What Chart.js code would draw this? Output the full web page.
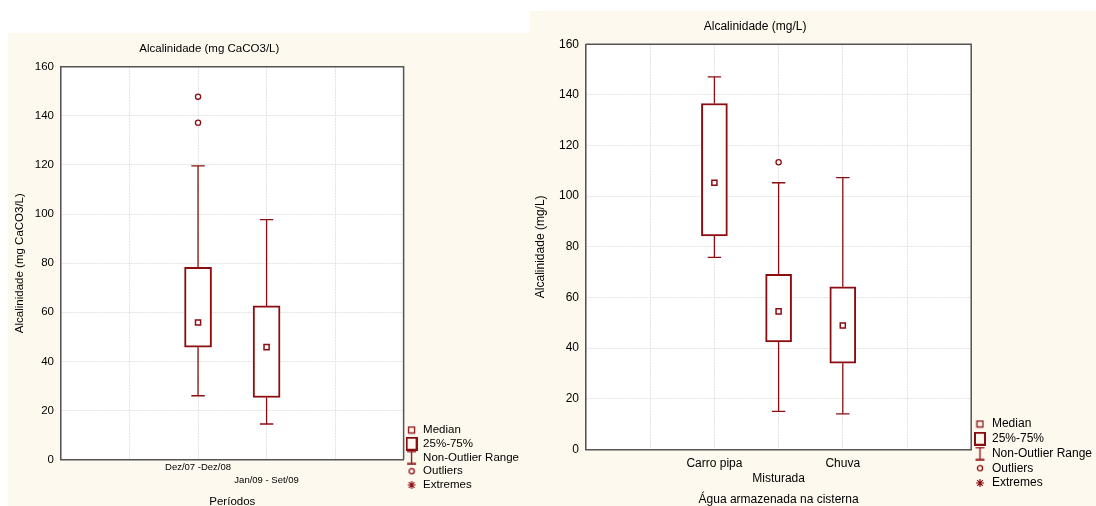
<!DOCTYPE html>
<html>
<head>
<meta charset="utf-8">
<script src="https://cdn.jsdelivr.net/npm/chart.js@4.4.1/dist/chart.umd.min.js"></script>
<style>
  html, body { margin: 0; padding: 0; background: #fff; width: 1096px; height: 506px; overflow: hidden; }
  .panel { position: absolute; background: #fdf9ee; overflow: hidden; }
  #leftPanel { left: 8px; top: 33px; width: 522px; height: 473px; }
  #rightPanel { left: 530px; top: 11px; width: 566px; height: 495px; }
  canvas { display: block; }
</style>
</head>
<body>
<div class="panel" id="leftPanel"><canvas id="leftChart" width="522" height="473"></canvas></div>
<div class="panel" id="rightPanel"><canvas id="rightChart" width="572" height="495"></canvas></div>
<script>
// Left panel: alkalinity per period (box plot summary values)
const leftCategories = ['', '', 'Dez/07 -Dez/08', 'Jan/09 - Set/09', '', ''];
const leftMin = [26, 14.5];
const leftQ1 = [45.8, 25.3];
const leftMedian = [55.8, 45.8];
const leftQ3 = [78.3, 62.6];
const leftMax = [119.6, 97.7];
const leftOutliers = [[147.8, 137.2], []];

// Right panel: alkalinity per water source
const rightCategories = ['', '', 'Carro pipa', 'Misturada', 'Chuva', '', ''];
const rightMin = [75.8, 15, 14];
const rightQ1 = [84.3, 42.4, 34];
const rightMedian = [105.3, 54.5, 48.9];
const rightQ3 = [136.6, 69.1, 64.2];
const rightMax = [147.1, 105.3, 107.3];
const rightOutliers = [[], [113.4], []];

const yTicks = [0, 20, 40, 60, 80, 100, 120, 140, 160];
const legendNames = ['Median', '25%-75%', 'Non-Outlier Range', 'Outliers', 'Extremes'];

const RED = '#8c0d10';
const FONT = '"Liberation Sans", Arial, sans-serif';

// little canvases used as legend symbols
function symbol(w, h, draw) {
    const c = document.createElement('canvas');
    c.width = w; c.height = h;
    const g = c.getContext('2d');
    g.strokeStyle = RED; g.fillStyle = RED;
    draw(g);
    return c;
}
const legendSymbols = [
    symbol(9, 9, g => { g.lineWidth = 1.3; g.strokeRect(1.5, 1.5, 6, 6); }),
    symbol(12, 14, g => { g.lineWidth = 2; g.strokeRect(1, 1, 10, 12); }),
    symbol(11, 14, g => {
        g.lineWidth = 1.3; g.beginPath();
        g.moveTo(1, 1); g.lineTo(10, 1);
        g.moveTo(5.5, 1); g.lineTo(5.5, 13);
        g.moveTo(1, 13); g.lineTo(10, 13);
        g.stroke();
    }),
    symbol(8, 8, g => { g.lineWidth = 1.3; g.beginPath(); g.arc(4, 4, 2.6, 0, Math.PI * 2); g.stroke(); }),
    symbol(10, 10, g => {
        g.lineWidth = 1.2; g.beginPath();
        for (let a = 0; a < 4; a++) {
            const r = a * Math.PI / 4;
            g.moveTo(5 - Math.cos(r) * 4, 5 - Math.sin(r) * 4);
            g.lineTo(5 + Math.cos(r) * 4, 5 + Math.sin(r) * 4);
        }
        g.stroke();
    })
];

function boxDatasets(cats, mins, q1, med, q3, maxs, outliers, barW) {
    const xs = cats.map((c, i) => c ? i : -1).filter(i => i >= 0);
    const whisker = [];
    xs.forEach((x, i) => {
        whisker.push({x, y: mins[i]}, {x, y: q1[i]}, {x, y: null},
                     {x, y: q3[i]}, {x, y: maxs[i]}, {x, y: null});
    });
    return [
        { type: 'scatter', label: 'Median', data: xs.map((x, i) => ({x, y: med[i]})),
          pointStyle: 'rect', pointRadius: 3.6, backgroundColor: '#fff', borderColor: RED, borderWidth: 1.5, order: 0 },
        { type: 'bar', label: '25%-75%', data: xs.map((x, i) => ({x, y: [q1[i], q3[i]]})),
          backgroundColor: '#fff', borderColor: RED, borderWidth: 2, borderSkipped: false, barThickness: barW, order: 1 },
        { type: 'scatter', label: 'whiskers', data: whisker, showLine: true, spanGaps: false,
          pointRadius: 0, borderColor: RED, borderWidth: 1.3, order: 2 },
        { type: 'scatter', label: 'caps', data: xs.flatMap((x, i) => [{x, y: mins[i]}, {x, y: maxs[i]}]),
          pointStyle: 'line', pointRadius: 6.7, borderColor: RED, borderWidth: 1.3, order: 2 },
        { type: 'scatter', label: 'Outliers', data: xs.flatMap((x, i) => outliers[i].map(y => ({x, y}))),
          pointStyle: 'circle', pointRadius: 2.6, backgroundColor: '#fff', borderColor: RED, borderWidth: 1.3, order: 0 }
    ];
}

const plotBackground = {
    id: 'plotBackground',
    beforeDraw(chart) {
        const {ctx, chartArea: a} = chart;
        ctx.save();
        ctx.fillStyle = '#fff';
        ctx.fillRect(a.left, a.top, a.right - a.left, a.bottom - a.top);
        ctx.restore();
    },
    afterDraw(chart) {
        // top and right edges of the plot frame
        const {ctx, chartArea: a} = chart;
        ctx.save();
        ctx.strokeStyle = '#555';
        ctx.lineWidth = 1.5;
        ctx.beginPath();
        ctx.moveTo(a.left, a.top);
        ctx.lineTo(a.right, a.top);
        ctx.lineTo(a.right, a.bottom);
        ctx.stroke();
        ctx.restore();
    }
};
const panelTitle = {
    id: 'panelTitle',
    afterDraw(chart, args, opts) {
        const {ctx, chartArea: a} = chart;
        ctx.save();
        ctx.font = opts.size + 'px ' + FONT;
        ctx.fillStyle = '#000';
        ctx.textAlign = 'center';
        ctx.textBaseline = 'middle';
        ctx.fillText(opts.text, (a.left + a.right) / 2 + opts.shift, opts.y);
        ctx.restore();
    }
};

function makeChart(id, o) {
    const xMax = o.categories.length - 1;
    const frame = { display: true, color: '#555', width: 1.5, dash: [2, 1] };
    return new Chart(document.getElementById(id), {
        type: 'bar',
        data: { datasets: boxDatasets(o.categories, o.min, o.q1, o.median, o.q3, o.max, o.outliers, o.barW) },
        plugins: [plotBackground, panelTitle],
        options: {
            responsive: false,
            animation: false,
            events: [],
            layout: { padding: o.padding },
            scales: {
                x: {
                    type: 'linear', position: 'bottom', min: 0, max: xMax, offset: false,
                    afterFit: s => { s.height = o.xHeight; },
                    grid: { color: '#e2e2e2', drawTicks: false, offset: false },
                    border: frame,
                    ticks: {
                        stepSize: 1, autoSkip: false, maxRotation: 0, minRotation: 0,
                        padding: o.xTickPad, color: '#000',
                        font: { family: FONT, size: o.xTickSize, lineHeight: o.xTickLine },
                        callback: v => {
                            const c = o.categories[v] || '';
                            return v % 2 === 1 && c ? ['', c] : c;
                        }
                    },
                    title: { display: true, text: o.xTitle, color: '#000',
                             font: { family: FONT, size: o.size }, padding: { top: 0, bottom: o.xTitlePad } }
                },
                y: {
                    type: 'linear', position: 'left', min: 0, max: 160,
                    afterFit: s => { s.width = o.yWidth; },
                    afterBuildTicks: s => { s.ticks = yTicks.map(v => ({value: v})); },
                    grid: { color: '#e2e2e2', drawTicks: false },
                    border: frame,
                    ticks: { padding: 7, color: '#000', font: { family: FONT, size: o.size } },
                    title: { display: true, text: o.yTitle, color: '#000',
                             font: { family: FONT, size: o.size }, padding: { top: o.yTitlePad, bottom: 0 } }
                }
            },
            plugins: {
                tooltip: { enabled: false },
                panelTitle: { text: o.title, size: o.size, shift: o.titleShift, y: o.titleY },
                legend: {
                    position: 'right', align: 'end',
                    labels: {
                        usePointStyle: true, boxWidth: 12, padding: o.legendPad, color: '#000',
                        font: { family: FONT, size: o.size },
                        generateLabels: () => legendNames.map((t, i) => ({
                            text: t, pointStyle: legendSymbols[i], fillStyle: '#fff',
                            strokeStyle: RED, lineWidth: 0, hidden: false, datasetIndex: 0
                        }))
                    }
                }
            }
        }
    });
}

makeChart('leftChart', {
    categories: leftCategories, min: leftMin, q1: leftQ1, median: leftMedian, q3: leftQ3,
    max: leftMax, outliers: leftOutliers, barW: 27,
    title: 'Alcalinidade (mg CaCO3/L)', xTitle: 'Períodos', yTitle: 'Alcalinidade (mg CaCO3/L)',
    size: 11.5, padding: { top: 33.7, left: 0, right: 1, bottom: 13 },
    yWidth: 53, xHeight: 33.4, xTickSize: 9.5, xTickLine: 13 / 9.5, xTickPad: 1,
    xTitlePad: -15.9, yTitlePad: 5.1, legendPad: 2.25, titleShift: -23, titleY: 16
});

makeChart('rightChart', {
    categories: rightCategories, min: rightMin, q1: rightQ1, median: rightMedian, q3: rightQ3,
    max: rightMax, outliers: rightOutliers, barW: 26,
    title: 'Alcalinidade (mg/L)', xTitle: 'Água armazenada na cisterna', yTitle: 'Alcalinidade (mg/L)',
    size: 12, padding: { top: 33.3, left: 0, right: 0, bottom: 14.25 },
    yWidth: 56, xHeight: 42.45, xTickSize: 12, xTickLine: 1.25, xTickPad: 7.2,
    xTitlePad: -15.45, yTitlePad: 3.8, legendPad: 2.75, titleShift: -23.5, titleY: 15.7
});
</script>
</body>
</html>
